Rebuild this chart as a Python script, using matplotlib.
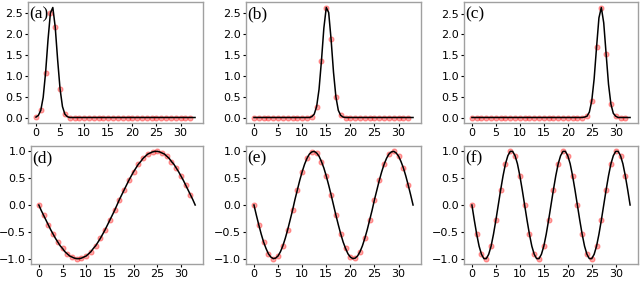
import numpy as np
import matplotlib
matplotlib.use("Agg")
import matplotlib.pyplot as plt

# x grid of the black curves (step 0.5); red markers at integer x 0..32
x_curve = np.arange(0, 33.5, 0.5)

gauss_a = [0.01, 0.05, 0.17, 0.48, 1.07, 1.85, 2.49, 2.62, 2.15, 1.37, 0.68, 0.26, 0.08, 0.02] + [0.0] * 53
gauss_b = [0.0] * 24 + [0.02, 0.08, 0.26, 0.67, 1.35, 2.13, 2.62, 2.50, 1.86, 1.08, 0.49, 0.17, 0.05, 0.01] + [0.0] * 29
gauss_c = [0.0] * 47 + [0.01, 0.03, 0.13, 0.40, 0.93, 1.69, 2.40, 2.65, 2.28, 1.53, 0.80, 0.32, 0.10, 0.03] + [0.0] * 6

sine_d = [0.0, -0.10, -0.19, -0.28, -0.37, -0.46, -0.54, -0.62, -0.69, -0.76, -0.81, -0.87, -0.91, -0.95,
          -0.97, -0.99, -1.00, -1.00, -0.99, -0.97, -0.95, -0.91, -0.87, -0.81, -0.76, -0.69, -0.62, -0.54,
          -0.46, -0.37, -0.28, -0.19, -0.10, 0.0, 0.10, 0.19, 0.28, 0.37, 0.46, 0.54, 0.62, 0.69, 0.76, 0.81,
          0.87, 0.91, 0.95, 0.97, 0.99, 1.00, 1.00, 0.99, 0.97, 0.95, 0.91, 0.87, 0.81, 0.76, 0.69, 0.62,
          0.54, 0.46, 0.37, 0.28, 0.19, 0.10, 0.0]

sine_e = [0.0, -0.19, -0.37, -0.54, -0.69, -0.81, -0.91, -0.97, -1.00, -0.99, -0.95, -0.87, -0.76, -0.62,
          -0.46, -0.28, -0.10, 0.10, 0.28, 0.46, 0.62, 0.76, 0.87, 0.95, 0.99, 1.00, 0.97, 0.91, 0.81, 0.69,
          0.54, 0.37, 0.19,
          0.0, -0.19, -0.37, -0.54, -0.69, -0.81, -0.91, -0.97, -1.00, -0.99, -0.95, -0.87, -0.76, -0.62,
          -0.46, -0.28, -0.10, 0.10, 0.28, 0.46, 0.62, 0.76, 0.87, 0.95, 0.99, 1.00, 0.97, 0.91, 0.81, 0.69,
          0.54, 0.37, 0.19, 0.0]

sine_f = [0.0, -0.28, -0.54, -0.76, -0.91, -0.99, -0.99, -0.91, -0.76, -0.54, -0.28, 0.0, 0.28, 0.54, 0.76,
          0.91, 0.99, 0.99, 0.91, 0.76, 0.54, 0.28,
          0.0, -0.28, -0.54, -0.76, -0.91, -0.99, -0.99, -0.91, -0.76, -0.54, -0.28, 0.0, 0.28, 0.54, 0.76,
          0.91, 0.99, 0.99, 0.91, 0.76, 0.54, 0.28,
          0.0, -0.28, -0.54, -0.76, -0.91, -0.99, -0.99, -0.91, -0.76, -0.54, -0.28, 0.0, 0.28, 0.54, 0.76,
          0.91, 0.99, 0.99, 0.91, 0.76, 0.54, 0.28, 0.0]

panels = [("(a)", gauss_a), ("(b)", gauss_b), ("(c)", gauss_c),
          ("(d)", sine_d), ("(e)", sine_e), ("(f)", sine_f)]
xticks = [0, 5, 10, 15, 20, 25, 30]
yticks_gauss = [0.0, 0.5, 1.0, 1.5, 2.0, 2.5]
yticks_sine = [-1.0, -0.5, 0.0, 0.5, 1.0]

W, H = 640, 281
fig = plt.figure(figsize=(6.4, 2.81), dpi=100)
# (left, right) pixel extents per panel
cols = [[(28, 203), (246, 421), (464, 638)],
        [(31, 203), (246, 421), (464, 638)]]
rows = [(2, 123), (146, 264)]

for i, (lab, y) in enumerate(panels):
    r, c = divmod(i, 3)
    top, bot = rows[r]
    l, rr = cols[r][c]
    ax = fig.add_axes([l / W, (H - bot) / H, (rr - l) / W, (bot - top) / H])
    y = np.asarray(y)
    xm = x_curve[0:65:2]
    ym = y[0:65:2]
    ax.plot(xm, ym, 'o', color='red', alpha=0.35, ms=3.6, mew=0.8, zorder=2)
    ax.plot(x_curve, y, '-', color='black', lw=1.1, zorder=3)
    ax.set_xticks(xticks)
    ax.set_yticks(yticks_gauss if r == 0 else yticks_sine)
    ax.tick_params(labelsize=8, length=2.2, width=0.8, pad=1.2, colors='black')
    for s in ax.spines.values():
        s.set_color('#a0a0a0')
        s.set_linewidth(1.0)
    ax.text(0.01, 0.895, lab, transform=ax.transAxes, ha='left', va='center',
            fontsize=12.5, family='Liberation Serif')

fig.savefig("out.png", dpi=100)
